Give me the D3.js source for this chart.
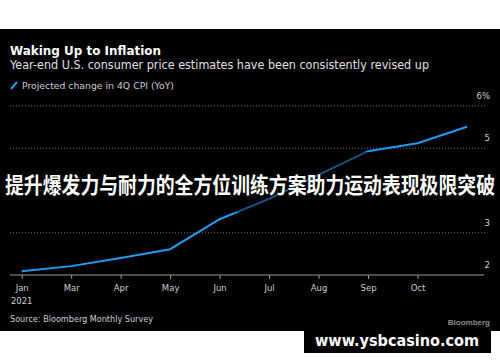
<!DOCTYPE html>
<html><head><meta charset="utf-8">
<script src="https://cdn.jsdelivr.net/npm/d3@7"></script>
<style>html,body{margin:0;padding:0;background:#fff;}svg{display:block;}</style>
</head><body>
<script>
const months = ["Jan","Mar","Apr","May","Jun","Jul","Aug","Sep","Oct","Nov"];
const monthLabels = ["Jan","Mar","Apr","May","Jun","Jul","Aug","Sep","Oct",""];
const cpiEstimate = [2.09,2.21,2.40,2.61,3.32,3.80,4.37,4.93,5.12,5.51];
const yTicks = [2,3,4,5,6];
const yTickLabels = ["2","3","","5","6%"];

const W=500,H=362;
const svg=d3.select("body").append("svg").attr("width",W).attr("height",H);
const font="'Liberation Sans', Arial, sans-serif";
const font2="'DejaVu Sans', sans-serif";

svg.append("rect").attr("x",0).attr("y",29).attr("width",W).attr("height",302).attr("fill","#000");

const x=d3.scalePoint().domain(months).range([21.7,467]);
const y=d3.scaleLinear().domain([2,6]).range([275,106]);

// gridlines
svg.append("g").selectAll("line").data(yTicks.filter(d=>d>2)).join("line")
 .attr("x1",10).attr("x2",485).attr("y1",d=>y(d)).attr("y2",d=>y(d))
 .attr("stroke","#8a8a8a").attr("stroke-width",0.8).attr("stroke-dasharray","1,2");

// y labels
svg.append("g").selectAll("text").data(yTicks).join("text")
 .attr("x",490).attr("y",d=>y(d)-7).attr("text-anchor","end")
 .attr("fill","#cfcfcf").attr("font-family",font2).attr("font-size",8.5)
 .text((d,i)=>yTickLabels[i]);

// x axis
const xAxis=d3.axisBottom(x).tickSize(4).tickPadding(6).tickFormat((d,i)=>monthLabels[i]);
const gx=svg.append("g").attr("transform","translate(0,275)").call(xAxis);
gx.select(".domain").attr("d","M10,0H484").attr("stroke","#9a9a9a").attr("stroke-width",1.2);
gx.selectAll(".tick line").attr("stroke","#9a9a9a");
gx.selectAll(".tick").filter(d=>d==="Nov").select("line").remove();
gx.selectAll(".tick text").attr("fill","#cfcfcf").attr("font-family",font2).attr("font-size",8.5);
svg.append("text").attr("x",x("Jan")).attr("y",304).attr("text-anchor","middle")
 .attr("fill","#cfcfcf").attr("font-family",font2).attr("font-size",8.5).text("2021");

// line
const line=d3.line().x((d,i)=>x(months[i])).y(d=>y(d));
svg.append("path").datum(cpiEstimate).attr("d",line).attr("fill","none")
 .attr("stroke","#1e9bf0").attr("stroke-width",2);

// titles
svg.append("text").attr("x",10).attr("y",55).attr("fill","#fff").attr("font-family",font2)
 .attr("font-weight","bold").attr("font-size",12.5).attr("textLength",151).attr("lengthAdjust","spacingAndGlyphs")
 .text("Waking Up to Inflation");
svg.append("text").attr("x",10).attr("y",68.5).attr("fill","#e0e0e0").attr("font-family",font2)
 .attr("font-size",11.5).attr("textLength",419).attr("lengthAdjust","spacingAndGlyphs")
 .text("Year-end U.S. consumer price estimates have been consistently revised up");
svg.append("line").attr("x1",11).attr("y1",89).attr("x2",17).attr("y2",82)
 .attr("stroke","#1e9bf0").attr("stroke-width",2);
svg.append("text").attr("x",22).attr("y",89).attr("fill","#cfcfcf").attr("font-family",font2)
 .attr("font-size",9).attr("textLength",152).attr("lengthAdjust","spacingAndGlyphs")
 .text("Projected change in 4Q CPI (YoY)");

// footer
svg.append("text").attr("x",10).attr("y",321.5).attr("fill","#cfcfcf").attr("font-family",font2)
 .attr("font-size",8.5).attr("textLength",143).attr("lengthAdjust","spacingAndGlyphs")
 .text("Source: Bloomberg Monthly Survey");
svg.append("text").attr("x",490).attr("y",325).attr("text-anchor","end").attr("fill","#8a8a8a")
 .attr("font-family",font).attr("font-weight","bold").attr("font-size",8).text("Bloomberg");

// overlay banner
svg.append("rect").attr("x",0).attr("y",152).attr("width",W).attr("height",60)
 .attr("fill","#000").attr("opacity",0.45);
svg.append("text").attr("x",250).attr("y",193).attr("text-anchor","middle")
 .attr("fill","#fff").attr("font-family","'Noto Sans CJK SC', sans-serif").attr("font-weight","bold")
 .attr("font-size",21.2).attr("textLength",490).attr("lengthAdjust","spacingAndGlyphs")
 .attr("stroke","#000").attr("stroke-width",0.6).attr("paint-order","stroke")
 .text("提升爆发力与耐力的全方位训练方案助力运动表现极限突破");

// watermark
svg.append("rect").attr("x",304).attr("y",331).attr("width",187).attr("height",22).attr("fill","#000");
svg.append("text").attr("x",397).attr("y",346).attr("text-anchor","middle").attr("fill","#fff")
 .attr("font-family",font2).attr("font-weight","bold").attr("font-size",15)
 .attr("textLength",164).attr("lengthAdjust","spacingAndGlyphs").text("www.ysbcasino.com");
</script>
</body></html>
